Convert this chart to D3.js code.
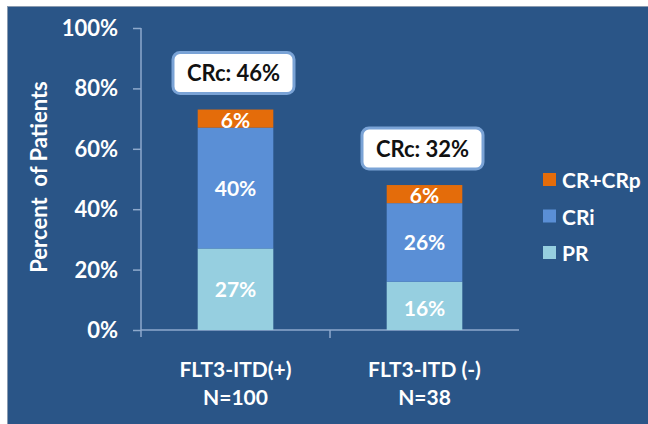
<!DOCTYPE html>
<html>
<head>
<meta charset="utf-8">
<script src="https://cdn.jsdelivr.net/npm/d3@7"></script>
<style>
  html, body { margin: 0; padding: 0; background: #ffffff; }
  svg { display: block; }
  text { font-family: Lato, "Open Sans", sans-serif; font-weight: 700; }
</style>
</head>
<body>
<svg id="chart" width="648" height="424"></svg>
<script>
// Response by FLT3-ITD status
const groups = ["FLT3-ITD(+)", "FLT3-ITD (-)"];
const groupN = ["N=100", "N=38"];
const seriesNames = ["PR", "CRi", "CR+CRp"];
const prValues = [27, 16];
const criValues = [40, 26];
const crValues = [6, 6];
const crcLabels = ["CRc: 46%", "CRc: 32%"];
const yTicks = [0, 20, 40, 60, 80, 100];

const colors = { "PR": "#96cfe0", "CRi": "#5a8fd6", "CR+CRp": "#e46c0a" };
const legendOrder = ["CR+CRp", "CRi", "PR"];

const svg = d3.select("#chart");
const W = 648, H = 424;

// panel background
svg.append("rect").attr("x", 7).attr("y", 6).attr("width", W - 7).attr("height", H - 6)
  .attr("fill", "#2a5587");
svg.append("line").attr("x1", 7).attr("x2", W).attr("y1", 6.5).attr("y2", 6.5)
  .attr("stroke", "#8a9bb0").attr("stroke-width", 1);
svg.append("line").attr("x1", 7.5).attr("x2", 7.5).attr("y1", 6).attr("y2", H)
  .attr("stroke", "#8a9bb0").attr("stroke-width", 1);

const x0 = 141, x1 = 519, yTop = 28, yBot = 330;

const x = d3.scaleBand().domain(groups).range([x0, x1]).paddingInner(0.6).paddingOuter(0.3);
const y = d3.scaleLinear().domain([0, 100]).range([yBot, yTop]);

const rows = groups.map((g, i) => ({ group: g, "PR": prValues[i], "CRi": criValues[i], "CR+CRp": crValues[i] }));
const stacked = d3.stack().keys(seriesNames)(rows);

const axisColor = "#8ea9cc";

// y axis
const yAxis = svg.append("g").attr("transform", `translate(${x0},0)`)
  .call(d3.axisLeft(y).tickValues(yTicks).tickFormat(d => d + "%").tickSize(8).tickPadding(15).tickSizeOuter(0));
yAxis.select(".domain").remove();
yAxis.append("line").attr("x1", 0).attr("x2", 0).attr("y1", yTop).attr("y2", yBot + 7)
  .attr("stroke", axisColor).attr("stroke-width", 1.5);
yAxis.selectAll(".tick line").attr("stroke", axisColor).attr("stroke-width", 1.5);
yAxis.selectAll(".tick text").attr("fill", "#ffffff").attr("font-size", 22)
  .attr("font-family", "Lato, sans-serif").attr("font-weight", 700).attr("dy", "0.34em");

// x axis
const xAxisG = svg.append("g").attr("transform", `translate(0,${yBot})`);
xAxisG.append("line").attr("x1", x0).attr("x2", x1).attr("y1", 0).attr("y2", 0)
  .attr("stroke", axisColor).attr("stroke-width", 1.5);
const bounds = [x0, ...groups.slice(1).map(g => x(g) - x.step() * x.paddingInner() / 2), x1];
xAxisG.selectAll("line.sep").data(bounds.slice(1, -1)).join("line").attr("class", "sep")
  .attr("x1", d => d).attr("x2", d => d).attr("y1", 0).attr("y2", 8)
  .attr("stroke", axisColor).attr("stroke-width", 1.5);

// stacked bars
const layer = svg.append("g").selectAll("g").data(stacked).join("g")
  .attr("fill", d => colors[d.key]);
layer.selectAll("rect").data(d => d.map(v => ({ key: d.key, v }))).join("rect")
  .attr("x", d => x(d.v.data.group))
  .attr("width", x.bandwidth())
  .attr("y", d => y(d.v[1]))
  .attr("height", d => y(d.v[0]) - y(d.v[1]));

// segment labels
layer.selectAll("text").data(d => d.map(v => ({ key: d.key, v }))).join("text")
  .attr("x", d => x(d.v.data.group) + x.bandwidth() / 2)
  .attr("y", d => {
    const top = y(d.v[1]), bot = y(d.v[0]);
    if (d.key === "CR+CRp") return top + 18;
    if (d.key === "PR" && d.v.data.group === groups[1]) return bot - 14;
    return (top + bot) / 2 + 8;
  })
  .attr("text-anchor", "middle").attr("fill", "#ffffff").attr("font-size", 21)
  .text(d => (d.v[1] - d.v[0]) + "%");

// CRc callouts
const boxW = 121, boxH = 41;
const callouts = svg.append("g").selectAll("g").data(groups).join("g")
  .attr("transform", (g, i) => {
    const total = prValues[i] + criValues[i] + crValues[i];
    return `translate(${x(g) + x.bandwidth() / 2 - boxW / 2 - 2},${y(total) - boxH - 16})`;
  });
callouts.append("rect").attr("width", boxW).attr("height", boxH).attr("rx", 7)
  .attr("fill", "#ffffff").attr("stroke", "#7aa3d6").attr("stroke-width", 3);
callouts.append("text").attr("x", boxW / 2).attr("y", boxH / 2 + 8)
  .attr("text-anchor", "middle").attr("fill", "#111111").attr("font-size", 22)
  .text((g, i) => crcLabels[i]);

// category labels
const xl = svg.append("g").selectAll("text").data(groups).join("text")
  .attr("x", g => x(g) + x.bandwidth() / 2)
  .attr("text-anchor", "middle").attr("fill", "#ffffff").attr("font-size", 21);
xl.append("tspan").attr("x", g => x(g) + x.bandwidth() / 2).attr("y", 377).text(g => g);
xl.append("tspan").attr("x", g => x(g) + x.bandwidth() / 2).attr("y", 405).text((g, i) => groupN[i]);

// y axis title
svg.append("text").attr("transform", "translate(47,177) rotate(-90)")
  .attr("text-anchor", "middle").attr("fill", "#ffffff").attr("font-size", 22)
  .attr("xml:space", "preserve")
  .text("Percent  of Patients");

// legend
const lg = svg.append("g").selectAll("g").data(legendOrder).join("g")
  .attr("transform", (d, i) => `translate(543,${173 + i * 36.5})`);
lg.append("rect").attr("width", 13).attr("height", 13).attr("fill", d => colors[d]);
lg.append("text").attr("x", 19).attr("y", 15).attr("fill", "#ffffff").attr("font-size", 21)
  .text(d => d);
</script>
</body>
</html>
